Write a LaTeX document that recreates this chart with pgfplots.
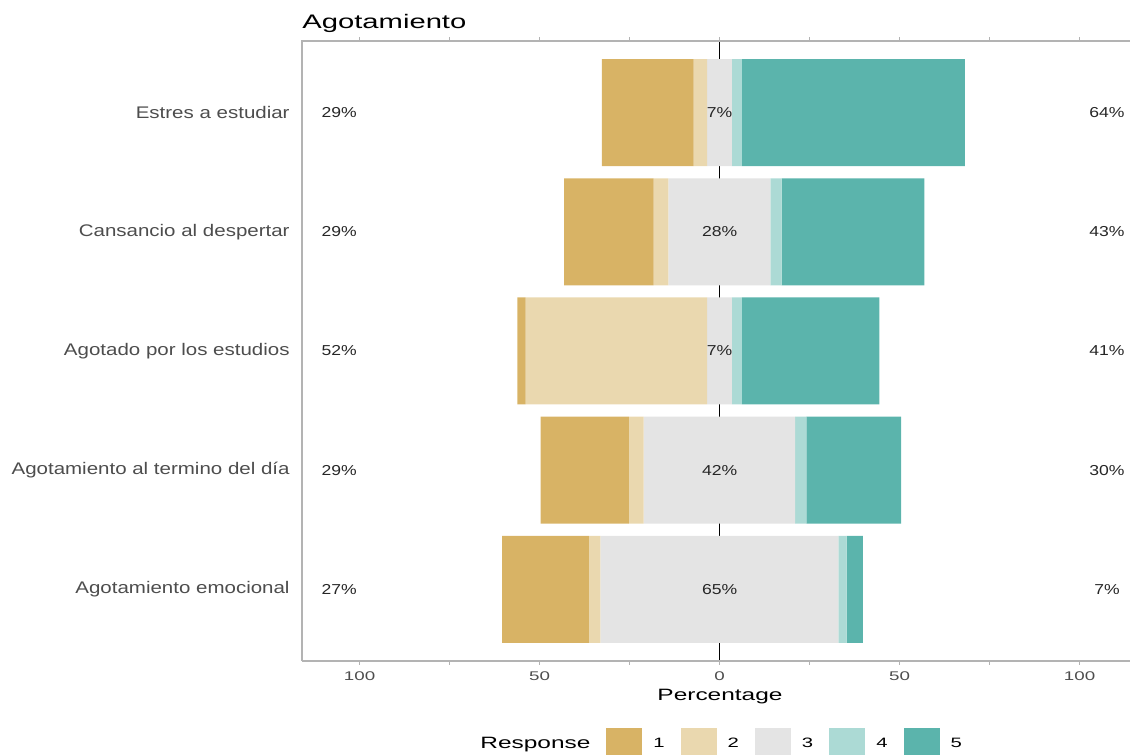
\documentclass[border=0pt]{standalone}
\usepackage{pgfplots}
\pgfplotsset{compat=1.18}
\usepackage{pgfplotstable}
\usepackage{fontspec}
\setmainfont{Liberation Sans}
\newfontfamily\wideA{Liberation Sans}[FakeStretch=1.49]
\newfontfamily\wideB{Liberation Sans}[FakeStretch=1.22]
\definecolor{c1}{HTML}{D8B365}
\definecolor{c2}{HTML}{EAD8AF}
\definecolor{c3}{HTML}{E4E4E4}
\definecolor{c4}{HTML}{ACDAD5}
\definecolor{c5}{HTML}{5BB4AC}
\definecolor{grey30}{HTML}{4D4D4D}
\definecolor{pctcol}{HTML}{262626}
\definecolor{bordercol}{HTML}{B3B3B3}

% off = left edge of the bar; r1..r5 = share of each response (percent)
\pgfplotstableread{
y off r1 r2 r3 r4 r5
4 -32.7 25.5 3.7 6.9 2.8 61.9
3 -43.2 24.9 4.1 28.3 3.1 39.7
2 -56.2 2.3 50.4 6.9 2.8 38.2
1 -49.7 24.5 4.1 42.1 3.1 26.3
0 -60.4 24.1 3.2 66.1 2.3 4.5
}\bardata

\pgfplotstableread{
y xl left xm mid xr right
4 -105.7 29 0 7 107.6 64
3 -105.7 29 0 28 107.6 43
2 -105.7 52 0 7 107.6 41
1 -105.7 29 0 42 107.6 30
0 -105.7 27 0 65 107.6 7
}\labdata

\begin{document}
\begin{tikzpicture}
\path[use as bounding box] (0,0) rectangle (565pt,377.5pt);
\begin{axis}[
  at={(151pt,47pt)}, anchor=south west,
  scale only axis, width=414pt, height=310pt,
  xmin=-116, xmax=114, ymin=-0.6, ymax=4.6,
  clip=false,
  xbar stacked, stack negative=on previous, bar width=53.5pt,
  axis line style={draw=none},
  xtick={-100,-50,0,50,100},
  xticklabels={\mbox{100},\mbox{50},\mbox{0},\mbox{50},\mbox{100}},
  minor xtick={-75,-25,25,75},
  extra x ticks={0}, extra x tick labels={},
  extra x tick style={grid=major, major grid style={black, line width=0.65pt}, xtick style={draw=none}},
  xtick align=outside,
  major tick length=2pt, minor tick length=2pt,
  xtick style={bordercol, line width=0.6pt},
  ytick={0,1,2,3,4},
  yticklabels={Agotamiento emocional, Agotamiento al termino del día, Agotado por los estudios, Cansancio al despertar, Estres a estudiar},
  ytick style={draw=none},
  yticklabel style={font=\wideB\fontsize{8.4}{10}\selectfont, text=grey30, anchor=east, inner sep=0pt, xshift=-6pt},
  xticklabel style={font=\wideA\fontsize{6.3}{8}\selectfont, text=grey30, anchor=base, inner sep=0pt, yshift=-7.85pt},
  xlabel={Percentage},
  xlabel style={at={(rel axis cs:0.5048,0)}, anchor=base, yshift=-20pt, inner sep=0pt, font=\wideA\fontsize{8.2}{10}\selectfont, text=black},
  title={Agotamiento},
  title style={at={(rel axis cs:0,1)}, anchor=base west, yshift=0.3pt, inner sep=0pt, font=\wideA\fontsize{9.8}{12}\selectfont, text=black},
]
\addplot[draw=none, fill=none, forget plot] table[x=off, y=y] {\bardata};
\addplot[fill=c1, draw=none, forget plot] table[x=r1, y=y] {\bardata};
\addplot[fill=c2, draw=none, forget plot] table[x=r2, y=y] {\bardata};
\addplot[fill=c3, draw=none, forget plot] table[x=r3, y=y] {\bardata};
\addplot[fill=c4, draw=none, forget plot] table[x=r4, y=y] {\bardata};
\addplot[fill=c5, draw=none, forget plot] table[x=r5, y=y] {\bardata};
\draw[bordercol, line width=0.7pt] (rel axis cs:0,0) -- (rel axis cs:0,1) -- (rel axis cs:1,1);
\draw[bordercol, line width=0.7pt] (rel axis cs:0,0) -- (rel axis cs:1,0);
\end{axis}
\begin{axis}[
  at={(151pt,47pt)}, anchor=south west,
  scale only axis, width=414pt, height=310pt,
  xmin=-116, xmax=114, ymin=-0.6, ymax=4.6,
  hide axis, clip=false,
  legend columns=-1,
  legend style={at={(0.2017,-0.1339)}, anchor=west, draw=none, fill=none,
    inner xsep=0pt, inner ysep=0pt,
    nodes={inner sep=0pt},
    /tikz/every odd column/.append style={column sep=5.5pt},
    /tikz/every even column/.append style={column sep=8pt},
    font=\wideA\fontsize{6.8}{8}\selectfont},
  legend image code/.code={\fill[#1] (0pt,-8pt) rectangle (18pt,8pt);},
  nodes near coords style={anchor=center, inner sep=0pt, font=\wideB\fontsize{7.2}{9}\selectfont, text=pctcol},
]
\addplot[draw=none, mark=none, forget plot, point meta=explicit symbolic, nodes near coords={\pgfplotspointmeta\%}] table[x=xl, y=y, meta=left] {\labdata};
\addplot[draw=none, mark=none, forget plot, point meta=explicit symbolic, nodes near coords={\pgfplotspointmeta\%}] table[x=xm, y=y, meta=mid] {\labdata};
\addplot[draw=none, mark=none, forget plot, point meta=explicit symbolic, nodes near coords={\pgfplotspointmeta\%}] table[x=xr, y=y, meta=right] {\labdata};
\addlegendimage{empty legend}
\addlegendentry{\fontsize{8.2}{10}\selectfont Response}
\addlegendimage{fill=c1, draw=none}
\addlegendentry{1}
\addlegendimage{fill=c2, draw=none}
\addlegendentry{2}
\addlegendimage{fill=c3, draw=none}
\addlegendentry{3}
\addlegendimage{fill=c4, draw=none}
\addlegendentry{4}
\addlegendimage{fill=c5, draw=none}
\addlegendentry{5}
\end{axis}
\end{tikzpicture}
\end{document}
